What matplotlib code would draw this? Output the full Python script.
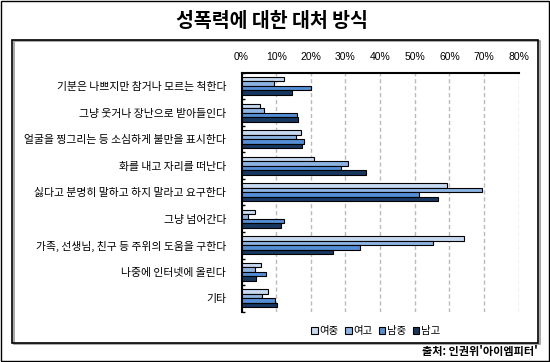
import matplotlib.pyplot as plt
import numpy as np
from matplotlib.patches import Rectangle

plt.rcParams["font.family"] = ["Noto Sans CJK KR", "DejaVu Sans"]

categories = [
    "기분은 나쁘지만 참거나 모르는 척한다",
    "그냥 웃거나 장난으로 받아들인다",
    "얼굴을 찡그리는 등 소심하게 불만을 표시한다",
    "화를 내고 자리를 떠난다",
    "싫다고 분명히 말하고 하지 말라고 요구한다",
    "그냥 넘어간다",
    "가족, 선생님, 친구 등 주위의 도움을 구한다",
    "나중에 인터넷에 올린다",
    "기타",
]
series_names = ["여중", "여고", "남중", "남고"]
girls_middle = [12.2, 5.2, 17.3, 20.9, 59.4, 4.0, 64.1, 5.7, 7.7]
girls_high = [9.5, 6.6, 15.6, 30.8, 69.3, 1.8, 55.4, 3.8, 5.8]
boys_middle = [20.0, 16.1, 17.9, 28.7, 51.2, 12.2, 34.1, 7.1, 9.6]
boys_high = [14.7, 16.4, 17.6, 35.8, 56.7, 11.5, 26.3, 4.1, 10.2]
colors = ["#c6d9f1", "#8db3e2", "#558ed5", "#17375e"]

fig = plt.figure(figsize=(5.5, 3.62), dpi=100)

# outer border and inner framed box
fig.patches.append(Rectangle((0.001, 0.002), 0.997, 0.995, transform=fig.transFigure,
                             fill=False, edgecolor="black", linewidth=1.0))
fig.patches.append(Rectangle((13.5 / 550, 18.0 / 362), 526 / 550, 303 / 362, transform=fig.transFigure,
                             fill=False, edgecolor="#999999", linewidth=1.2))
fig.patches.append(Rectangle((12 / 550, 19.3 / 362), 526 / 550, 303 / 362, transform=fig.transFigure,
                             fill=False, edgecolor="black", linewidth=1.2))

ax = fig.add_axes([241.5 / 550, 1 - 311.7 / 362, 277.2 / 550, 239 / 362])

y = np.arange(len(categories))
h = 0.17
all_series = [girls_middle, girls_high, boys_middle, boys_high]
for i, (vals, name, c) in enumerate(zip(all_series, series_names, colors)):
    ax.barh(y + (i - 1.5) * h, vals, height=h, color=c, edgecolor="black",
            linewidth=0.8, label=name, zorder=3)

ax.set_xlim(0, 80)
ax.set_ylim(len(categories) - 0.5, -0.5)
ax.set_xticks(np.arange(0, 81, 10))
ax.set_xticklabels([f"{v}%" for v in range(0, 81, 10)], fontsize=7.5,
                   family=["Liberation Sans", "DejaVu Sans"])
ax.xaxis.tick_top()
ax.tick_params(axis="x", length=0, pad=8)
ax.set_yticks(y)
ax.set_yticklabels(categories, fontsize=7.8)
ax.tick_params(axis="y", which="major", length=0, pad=11)
ax.set_yticks(np.arange(-0.5, len(categories), 1), minor=True)
ax.tick_params(axis="y", which="minor", direction="in", length=2, width=1)
ax.grid(axis="x", linestyle=(0, (3, 2)), color="#bbbbbb", linewidth=1, zorder=0)

for side in ["right", "bottom"]:
    ax.spines[side].set_visible(False)
ax.spines["top"].set_linewidth(1.5)
ax.spines["left"].set_linewidth(1.5)

leg = fig.legend(loc="center", bbox_to_anchor=(376 / 550, 1 - 331 / 362), ncol=4,
                 frameon=False, fontsize=7.5, handlelength=0.6, handleheight=0.6,
                 handletextpad=0.2, columnspacing=0.6)

fig.text(272 / 550, 1 - 21 / 362, "성폭력에 대한 대처 방식", ha="center", va="center",
         fontsize=14, fontweight="bold")
fig.text(538 / 550, 1 - 352 / 362, "출처: 인권위'아이엠피터'", ha="right", va="center",
         fontsize=8, fontweight="bold")

fig.savefig("out.png", dpi=100)
